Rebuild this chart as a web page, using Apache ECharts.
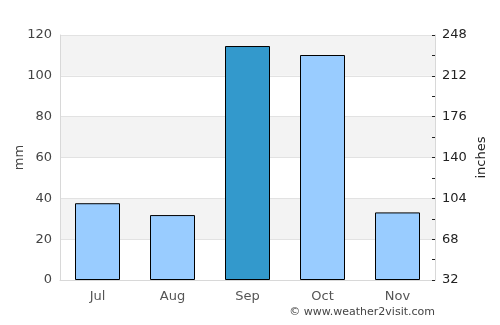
<!DOCTYPE html>
<html>
<head>
<meta charset="utf-8">
<script src="https://cdn.jsdelivr.net/npm/echarts@6/dist/echarts.min.js"></script>
<style>
html,body{margin:0;padding:0;background:#fff;}
#chartBar{width:500px;height:325px;}
</style>
</head>
<body>
<div id="chartBar"></div>
<script>
var months = ['Jul', 'Aug', 'Sep', 'Oct', 'Nov'];
var rainMm = [37.6, 31.8, 114.6, 110.2, 33.1];
var highlightIndex = 2;
var rightLabels = ['32', '68', '104', '140', '176', '212', '248'];

drawBar();
function drawBar(){
	var myChart = echarts.init(document.getElementById('chartBar'));
	var barData = rainMm.map(function(v, i){
		return {
			value: v,
			itemStyle: { color: i === highlightIndex ? '#3399cc' : '#99ccff' }
		};
	});
	var option = {
	    animation: false,
	    textStyle: { fontFamily: 'DejaVu Sans' },
	    grid: {
	        top: 35,
	        left: 60,
	        right: 65,
	        bottom: 45,
	        containLabel: false,
	        outerBoundsMode: 'none'
	    },
	    graphic: [{
	        type: 'text',
	        right: 65,
	        top: 307,
	        style: {
	            text: '\u00a9 www.weather2visit.com',
	            fill: '#444',
	            font: '11px DejaVu Sans'
	        }
	    }],
	    xAxis: {
	        type: 'category',
	        data: months,
	        axisLine: { lineStyle: { color: '#d8d8d8' } },
	        axisTick: { show: false },
	        axisLabel: { color: '#555', fontSize: 13, margin: 10 }
	    },
	    yAxis: [{
	        type: 'value',
	        name: 'mm',
	        nameLocation: 'middle',
	        nameGap: 34,
	        nameMoveOverlap: false,
	        nameTextStyle: { color: '#444', fontSize: 13 },
	        min: 0,
	        max: 120,
	        interval: 20,
	        axisLine: { show: true, lineStyle: { color: '#d8d8d8' } },
	        axisTick: { show: false },
	        axisLabel: { color: '#444', fontSize: 13, margin: 8 },
	        splitLine: { show: true, lineStyle: { color: '#e2e2e2' } },
	        splitArea: { show: true, areaStyle: { color: ['#ffffff', '#f3f3f3'] } }
	    }, {
	        type: 'value',
	        name: 'inches',
	        nameLocation: 'middle',
	        nameGap: 40,
	        nameMoveOverlap: false,
	        nameTextStyle: { color: '#222', fontSize: 13 },
	        position: 'right',
	        min: 0,
	        max: 120,
	        interval: 20,
	        axisLine: { show: true, lineStyle: { color: '#d8d8d8' } },
	        axisTick: { show: true, inside: true, length: 3, lineStyle: { color: '#222' } },
	        minorTick: { show: true, splitNumber: 2, length: 3, lineStyle: { color: '#222' } },
	        axisLabel: {
	            color: '#222',
	            fontSize: 13,
	            margin: 7,
	            formatter: function(v){ return rightLabels[Math.round(v / 20)]; }
	        },
	        splitLine: { show: false }
	    }],
	    series: [{
	        type: 'bar',
	        barWidth: '60%',
	        data: barData,
	        itemStyle: { borderColor: '#000', borderWidth: 1 }
	    }]
	};
	myChart.setOption(option);
}
</script>
</body>
</html>
